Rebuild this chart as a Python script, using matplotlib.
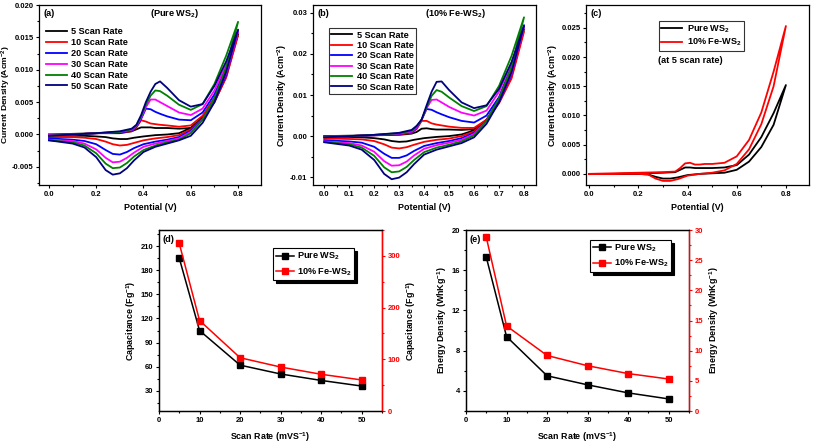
import numpy as np
import matplotlib.pyplot as plt
from matplotlib.ticker import MultipleLocator, FormatStrFormatter

plt.rcParams['font.family'] = 'Liberation Sans'
plt.rcParams['font.weight'] = 'bold'
plt.rcParams['axes.labelweight'] = 'bold'
plt.rcParams['mathtext.fontset'] = 'custom'
plt.rcParams['mathtext.rm'] = 'Liberation Sans:bold'
plt.rcParams['mathtext.it'] = 'Liberation Sans:bold'
plt.rcParams['mathtext.bf'] = 'Liberation Sans:bold'
plt.rcParams['axes.unicode_minus'] = False
plt.rcParams['axes.linewidth'] = 0.9

# ---- data ----
scan_labels = ['5 Scan Rate', '10 Scan Rate', '20 Scan Rate',
               '30 Scan Rate', '40 Scan Rate', '50 Scan Rate']
cv_colors = ['black', 'red', 'blue', 'magenta', '#008000', '#000080']

# potential grid, forward (anodic) and reverse (cathodic) sweep
e_fwd = [0.0, 0.1, 0.2, 0.3, 0.35, 0.37, 0.39, 0.41, 0.43, 0.45, 0.47, 0.5, 0.55, 0.6, 0.65, 0.7, 0.75, 0.8]
e_rev = [0.8, 0.75, 0.7, 0.65, 0.6, 0.55, 0.5, 0.45, 0.4, 0.36, 0.33, 0.3, 0.27, 0.24, 0.2, 0.15, 0.1, 0.0]

# (a) pure WS2, current density (A/cm2)
fwd_a = [
    [0.0, 0.0001, 0.0002, 0.0002, 0.0005, 0.0008, 0.0011, 0.0011, 0.0011, 0.0010, 0.0010, 0.0010, 0.0009, 0.0010, 0.0027, 0.0055, 0.0097, 0.0155],
    [0.0, 0.0, 0.0002, 0.0003, 0.0005, 0.0011, 0.0022, 0.0020, 0.0017, 0.0016, 0.0015, 0.0014, 0.0012, 0.0014, 0.0029, 0.0057, 0.0099, 0.0153],
    [-0.0001, 0.0, 0.0002, 0.0003, 0.0006, 0.0012, 0.0024, 0.0040, 0.0039, 0.0035, 0.0032, 0.0028, 0.0023, 0.0022, 0.0034, 0.0062, 0.0104, 0.0160],
    [-0.0001, 0.0, 0.0002, 0.0004, 0.0007, 0.0013, 0.0026, 0.0042, 0.0054, 0.0054, 0.0050, 0.0044, 0.0034, 0.0030, 0.0040, 0.0068, 0.0108, 0.0159],
    [-0.0002, 0.0, 0.0002, 0.0004, 0.0008, 0.0014, 0.0028, 0.0046, 0.0060, 0.0068, 0.0067, 0.0060, 0.0046, 0.0038, 0.0047, 0.0078, 0.0122, 0.0174],
    [-0.0002, 0.0, 0.0002, 0.0005, 0.0009, 0.0015, 0.0030, 0.0050, 0.0066, 0.0078, 0.0082, 0.0072, 0.0053, 0.0043, 0.0047, 0.0075, 0.0113, 0.0162],
]
rev_a = [
    [0.0155, 0.0090, 0.0050, 0.0025, 0.0010, 0.0002, 0.0, -0.0001, -0.0003, -0.0005, -0.0007, -0.0007, -0.0006, -0.0004, -0.0003, -0.0002, -0.0002, -0.0002],
    [0.0153, 0.0088, 0.0050, 0.0024, 0.0008, -0.0001, -0.0004, -0.0006, -0.0009, -0.0013, -0.0016, -0.0017, -0.0015, -0.0011, -0.0007, -0.0005, -0.0004, -0.0004],
    [0.0160, 0.0092, 0.0052, 0.0024, 0.0006, -0.0004, -0.0008, -0.0011, -0.0015, -0.0021, -0.0027, -0.0031, -0.0030, -0.0024, -0.0015, -0.0010, -0.0008, -0.0006],
    [0.0159, 0.0095, 0.0053, 0.0023, 0.0004, -0.0006, -0.0010, -0.0014, -0.0019, -0.0028, -0.0036, -0.0042, -0.0043, -0.0036, -0.0023, -0.0014, -0.0010, -0.0008],
    [0.0174, 0.0104, 0.0056, 0.0023, 0.0002, -0.0008, -0.0012, -0.0017, -0.0024, -0.0034, -0.0044, -0.0051, -0.0052, -0.0045, -0.0029, -0.0017, -0.0012, -0.0009],
    [0.0162, 0.0097, 0.0050, 0.0018, -0.0002, -0.0009, -0.0014, -0.0019, -0.0027, -0.0040, -0.0052, -0.0060, -0.0062, -0.0055, -0.0035, -0.0020, -0.0014, -0.0009],
]

# (b) 10% Fe-WS2
fwd_b = [
    [0.0, 0.0001, 0.0002, 0.0003, 0.0006, 0.0010, 0.0018, 0.0019, 0.0017, 0.0016, 0.0016, 0.0016, 0.0015, 0.0017, 0.0038, 0.0090, 0.0165, 0.0260],
    [0.0, 0.0, 0.0002, 0.0004, 0.0008, 0.0017, 0.0037, 0.0037, 0.0031, 0.0028, 0.0026, 0.0023, 0.0020, 0.0020, 0.0040, 0.0088, 0.0162, 0.0254],
    [-0.0001, 0.0, 0.0002, 0.0005, 0.0010, 0.0020, 0.0040, 0.0066, 0.0064, 0.0058, 0.0053, 0.0046, 0.0037, 0.0033, 0.0050, 0.0095, 0.0170, 0.0270],
    [-0.0002, 0.0, 0.0003, 0.0006, 0.0011, 0.0021, 0.0040, 0.0068, 0.0088, 0.0089, 0.0082, 0.0071, 0.0057, 0.0050, 0.0062, 0.0108, 0.0178, 0.0265],
    [-0.0003, 0.0, 0.0003, 0.0007, 0.0013, 0.0023, 0.0040, 0.0070, 0.0098, 0.0112, 0.0108, 0.0094, 0.0073, 0.0061, 0.0073, 0.0122, 0.0195, 0.0289],
    [-0.0003, 0.0, 0.0003, 0.0008, 0.0015, 0.0025, 0.0040, 0.0075, 0.0108, 0.0132, 0.0133, 0.0112, 0.0082, 0.0068, 0.0075, 0.0115, 0.0180, 0.0268],
]
rev_b = [
    [0.0260, 0.0145, 0.0082, 0.0040, 0.0014, 0.0004, 0.0, -0.0002, -0.0005, -0.0009, -0.0013, -0.0014, -0.0012, -0.0008, -0.0005, -0.0003, -0.0002, -0.0002],
    [0.0254, 0.0140, 0.0080, 0.0038, 0.0011, 0.0, -0.0006, -0.0009, -0.0014, -0.0021, -0.0027, -0.0030, -0.0028, -0.0020, -0.0012, -0.0008, -0.0007, -0.0006],
    [0.0270, 0.0150, 0.0083, 0.0038, 0.0008, -0.0005, -0.0012, -0.0017, -0.0024, -0.0036, -0.0047, -0.0053, -0.0053, -0.0043, -0.0026, -0.0016, -0.0013, -0.0010],
    [0.0265, 0.0152, 0.0085, 0.0037, 0.0005, -0.0009, -0.0016, -0.0022, -0.0031, -0.0047, -0.0062, -0.0071, -0.0072, -0.0061, -0.0038, -0.0023, -0.0017, -0.0013],
    [0.0289, 0.0168, 0.0092, 0.0037, 0.0002, -0.0013, -0.0021, -0.0028, -0.0039, -0.0058, -0.0075, -0.0086, -0.0088, -0.0076, -0.0048, -0.0028, -0.0020, -0.0014],
    [0.0268, 0.0155, 0.0083, 0.0030, -0.0003, -0.0017, -0.0025, -0.0033, -0.0045, -0.0068, -0.0088, -0.0101, -0.0105, -0.0092, -0.0058, -0.0033, -0.0023, -0.0015],
]

# (c) comparison at 5 scan rate
c_labels = ['Pure WS$_2$', '10% Fe-WS$_2$']
c_colors = ['black', 'red']
fwd_c = [
    [0.0, 0.0, 0.0001, 0.0002, 0.0003, 0.0007, 0.0011, 0.0011, 0.0010, 0.0010, 0.0010, 0.0010, 0.0011, 0.0015, 0.0033, 0.0063, 0.0104, 0.0152],
    [0.0, 0.0001, 0.0002, 0.0003, 0.0004, 0.0010, 0.0018, 0.0019, 0.0016, 0.0016, 0.0017, 0.0017, 0.0019, 0.0030, 0.0058, 0.0105, 0.0175, 0.0253],
]
rev_c = [
    [0.0152, 0.0084, 0.0046, 0.0021, 0.0007, 0.0002, 0.0001, 0.0, -0.0002, -0.0006, -0.0008, -0.0008, -0.0005, -0.0001, 0.0, 0.0, 0.0, 0.0],
    [0.0253, 0.0150, 0.0085, 0.0042, 0.0017, 0.0006, 0.0002, 0.0, -0.0003, -0.0009, -0.0012, -0.0012, -0.0008, -0.0001, 0.0, 0.0, 0.0, 0.0],
]

# (d), (e) vs scan rate
scan_rate = [5, 10, 20, 30, 40, 50]
cap_pure = [195, 105, 62, 51, 43, 36]
cap_fe = [324, 175, 103, 85, 71, 60]
en_pure = [17.3, 9.4, 5.5, 4.6, 3.8, 3.2]
en_fe = [28.8, 14.1, 9.2, 7.5, 6.2, 5.3]

# ---- layout ----
W, H = 813, 444
fig = plt.figure(figsize=(W / 100, H / 100), dpi=100)

def rect(l, t, r, b):
    return [l / W, 1 - b / H, (r - l) / W, (b - t) / H]

TICK = 5.5
LAB = 6.4
LEG = 6.6

def style(ax, xmaj, xmin, ymaj, ymin, xfmt=None, yfmt=None):
    ax.xaxis.set_major_locator(MultipleLocator(xmaj))
    ax.xaxis.set_minor_locator(MultipleLocator(xmin))
    ax.yaxis.set_major_locator(MultipleLocator(ymaj))
    ax.yaxis.set_minor_locator(MultipleLocator(ymin))
    if xfmt:
        ax.xaxis.set_major_formatter(FormatStrFormatter(xfmt))
    if yfmt:
        ax.yaxis.set_major_formatter(FormatStrFormatter(yfmt))
    ax.tick_params(which='both', direction='out', labelsize=TICK, width=0.8, pad=1.5)
    ax.tick_params(which='major', length=2.5)
    ax.tick_params(which='minor', length=1.5)

def cv_panel(ax, fwds, revs, colors, labels):
    for f, r, c, lab in zip(fwds, revs, colors, labels):
        ax.plot(e_fwd + e_rev[1:], f + r[1:], color=c, lw=1.3, label=lab)

# (a)
ax_a = fig.add_axes(rect(39, 5, 261, 185))
cv_panel(ax_a, fwd_a, rev_a, cv_colors, scan_labels)
ax_a.set_xlim(-0.042, 0.897)
ax_a.set_ylim(-0.0078, 0.020)
style(ax_a, 0.2, 0.1, 0.005, 0.0025, '%.1f', '%.3f')
ax_a.set_xlabel('Potential (V)', fontsize=LAB, labelpad=4)
ax_a.set_ylabel('Current Density (Acm$^{-2}$)', fontsize=6.1)
ax_a.yaxis.set_label_coords(-0.118, 0.5)
ax_a.text(0.02, 0.94, '(a)', transform=ax_a.transAxes, fontsize=LEG)
ax_a.text(0.61, 0.94, '(Pure WS$_2$)', transform=ax_a.transAxes, fontsize=LEG, ha='center')
ax_a.legend(loc='upper left', bbox_to_anchor=(0.03, 0.875), frameon=False, fontsize=LEG,
            handlelength=2.3, labelspacing=0.2, borderaxespad=0, borderpad=0, handletextpad=0.5)

# (b)
ax_b = fig.add_axes(rect(313, 5, 536, 185))
cv_panel(ax_b, fwd_b, rev_b, cv_colors, scan_labels)
ax_b.set_xlim(-0.045, 0.848)
ax_b.set_ylim(-0.0119, 0.0319)
style(ax_b, 0.1, 0.05, 0.01, 0.005, '%.1f', '%.2f')
ax_b.set_xlabel('Potential (V)', fontsize=LAB, labelpad=4)
ax_b.set_ylabel('Current Density (Acm$^{-2}$)', fontsize=LAB, labelpad=1)
ax_b.text(0.02, 0.94, '(b)', transform=ax_b.transAxes, fontsize=LEG)
ax_b.text(0.64, 0.94, '(10% Fe-WS$_2$)', transform=ax_b.transAxes, fontsize=LEG, ha='center')
lg = ax_b.legend(loc='upper left', bbox_to_anchor=(0.072, 0.87), fontsize=LEG, fancybox=False,
                 edgecolor='black', handlelength=2.3, labelspacing=0.15, borderaxespad=0,
                 borderpad=0.25, handletextpad=0.5)
lg.get_frame().set_linewidth(0.8)

# (c)
ax_c = fig.add_axes(rect(586, 5, 809, 185))
cv_panel(ax_c, fwd_c, rev_c, c_colors, c_labels)
ax_c.set_xlim(-0.013, 0.894)
ax_c.set_ylim(-0.0019, 0.0289)
style(ax_c, 0.2, 0.1, 0.005, 0.0025, '%.1f', '%.3f')
ax_c.set_xlabel('Potential (V)', fontsize=LAB, labelpad=4)
ax_c.set_ylabel('Current Density (Acm$^{-2}$)', fontsize=LAB, labelpad=1)
ax_c.text(0.02, 0.94, '(c)', transform=ax_c.transAxes, fontsize=LEG)
ax_c.text(0.466, 0.68, '(at 5 scan rate)', transform=ax_c.transAxes, fontsize=LEG, ha='center')
lg = ax_c.legend(loc='upper left', bbox_to_anchor=(0.327, 0.91), fontsize=LEG, fancybox=False,
                 edgecolor='black', handlelength=2.3, labelspacing=0.2, borderaxespad=0,
                 borderpad=0.25, handletextpad=0.5)
lg.get_frame().set_linewidth(0.8)

def rate_panel(l, r, pure, fe, ylim_l, ylim_r, lstep, rstep, ylab, tag, leg_anchor):
    ax = fig.add_axes(rect(l, 230, r, 411))
    ax2 = ax.twinx()
    h1, = ax.plot(scan_rate, pure, color='black', marker='s', ms=4, lw=1.1, label='Pure WS$_2$')
    h2, = ax2.plot(scan_rate, fe, color='red', marker='s', ms=4, lw=1.1, label='10% Fe-WS$_2$')
    ax.set_xlim(0, 55)
    ax.set_ylim(*ylim_l)
    ax2.set_ylim(*ylim_r)
    style(ax, 10, 5, lstep, lstep / 2)
    ax2.yaxis.set_major_locator(MultipleLocator(rstep))
    ax2.yaxis.set_minor_locator(MultipleLocator(rstep / 2))
    ax2.tick_params(which='both', direction='out', labelsize=TICK, width=0.8, pad=1.5,
                    colors='red')
    ax2.tick_params(which='major', length=2.5)
    ax2.tick_params(which='minor', length=1.5)
    ax2.spines['right'].set_color('red')
    ax2.spines['right'].set_linewidth(1.0)
    ax.set_xlabel('Scan Rate (mVS$^{-1}$)', fontsize=LAB, labelpad=5)
    ax.set_ylabel(ylab, fontsize=LAB, labelpad=2)
    ax2.set_ylabel(ylab, fontsize=LAB, labelpad=3)
    ax.text(0.015, 0.935, tag, transform=ax.transAxes, fontsize=LEG)
    lg = ax2.legend([h1, h2], [h1.get_label(), h2.get_label()], loc='upper left',
                    bbox_to_anchor=leg_anchor, fontsize=LEG, fancybox=False, edgecolor='black',
                    shadow={'color': 'black', 'alpha': 1}, handlelength=2.0,
                    labelspacing=0.4, borderaxespad=0, borderpad=0.3, handletextpad=0.3)
    lg.get_frame().set_linewidth(0.8)

rate_panel(159, 382, cap_pure, cap_fe, (5, 230), (0, 350), 30, 100,
           'Capacitance (Fg$^{-1}$)', '(d)', (0.511, 0.90))
rate_panel(466, 689, en_pure, en_fe, (2, 20), (0, 30), 4, 5,
           'Energy Density (WhKg$^{-1}$)', '(e)', (0.556, 0.945))

fig.savefig('out.png', dpi=100)
